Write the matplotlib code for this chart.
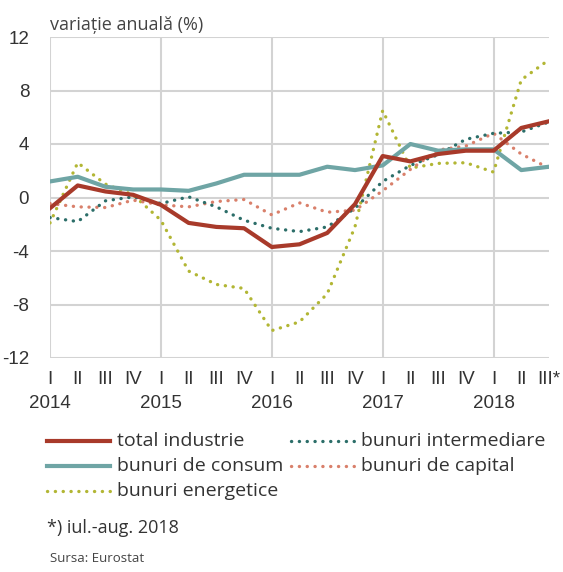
import numpy as np
import matplotlib.pyplot as plt
from matplotlib.transforms import blended_transform_factory

plt.rcParams["axes.unicode_minus"] = False

# quarterly data, 2014 Q1 .. 2018 Q3 (jul-aug)
quarters = ["I", "II", "III", "IV"] * 4 + ["I", "II", "III*"]
years = ["2014", "2015", "2016", "2017", "2018"]

total_industrie = [-0.8, 0.9, 0.45, 0.2, -0.55, -1.9, -2.2, -2.3, -3.7, -3.5,
                   -2.65, -0.5, 3.1, 2.7, 3.25, 3.5, 3.5, 5.2, 5.7]
bunuri_consum = [1.2, 1.55, 0.8, 0.6, 0.6, 0.5, 1.05, 1.7, 1.7, 1.7,
                 2.3, 2.05, 2.4, 4.0, 3.5, 3.6, 3.6, 2.05, 2.3]
bunuri_energetice = [-1.9, 2.6, 1.0, 0.2, -1.7, -5.5, -6.5, -6.8, -9.95, -9.3,
                     -7.2, -2.2, 6.5, 2.2, 2.55, 2.6, 1.9, 8.8, 10.3]
bunuri_intermediare = [-1.5, -1.8, -0.25, 0.05, -0.45, 0.05, -0.7, -1.7, -2.3, -2.55,
                       -2.2, -0.8, 1.2, 2.4, 3.2, 4.35, 4.8, 4.9, 5.65]
bunuri_capital = [-0.45, -0.7, -0.75, -0.2, -0.55, -0.7, -0.3, -0.15, -1.3, -0.4,
                  -1.1, -0.95, 0.5, 2.1, 3.55, 3.85, 4.8, 3.25, 2.2]

c_red = "#A83A2A"
c_teal = "#6FA5A5"
c_olive = "#B2B634"
c_dteal = "#2C6E69"
c_salmon = "#D9806B"
txt = "#333333"
tick_font = "Liberation Sans"

x = np.arange(len(quarters))

fig = plt.figure(figsize=(5.63, 5.72), dpi=100)
ax = fig.add_axes([50 / 563, 1 - 358 / 572, 499 / 563, 321 / 572])

dot = (0, (0.05, 2.3))
ax.plot(x, bunuri_energetice, color=c_olive, lw=2.4, ls=dot, dash_capstyle="round",
        label="bunuri energetice")
ax.plot(x, bunuri_capital, color=c_salmon, lw=2.4, ls=dot, dash_capstyle="round",
        label="bunuri de capital")
ax.plot(x, bunuri_intermediare, color=c_dteal, lw=2.4, ls=dot, dash_capstyle="round",
        label="bunuri intermediare")
ax.plot(x, bunuri_consum, color=c_teal, lw=3.0, label="bunuri de consum")
ax.plot(x, total_industrie, color=c_red, lw=3.0, label="total industrie")

ax.set_xlim(0, 18)
ax.set_ylim(-12, 12)
ax.set_yticks([-12, -8, -4, 0, 4, 8, 12])
ax.set_xticks(x)
ax.set_xticklabels(quarters)
for s in ax.spines.values():
    s.set_visible(False)
ax.tick_params(length=0, colors=txt, labelsize=13.5)
ax.tick_params(axis="y", pad=15)
ax.tick_params(axis="x", pad=9)
for lab in ax.get_xticklabels() + ax.get_yticklabels():
    lab.set_family(tick_font)

for yv in [-12, -8, -4, 0, 4, 8, 12]:
    ax.axhline(yv, color="#d3d3d3", lw=1.5, zorder=0)
for xv in [0, 4, 8, 12, 16]:
    ax.axvline(xv, color="#d3d3d3", lw=1.5, zorder=0)

tr = blended_transform_factory(ax.transData, fig.transFigure)
for i, yr in enumerate(years):
    ax.text(i * 4, 1 - 404 / 572, yr, transform=tr, ha="center", va="center",
            fontsize=13.5, family=tick_font, color=txt)

fig.text(50 / 563, 1 - 25 / 572, "variație anuală (%)", ha="left", va="center",
         fontsize=13, color="#444444", family="Open Sans")

h = {l.get_label(): l for l in ax.get_lines()}
order = ["total industrie", "bunuri intermediare", "bunuri de consum",
         "bunuri de capital", "bunuri energetice"]
leg_pos = {"total industrie": (47, 441), "bunuri de consum": (47, 466),
           "bunuri energetice": (47, 491), "bunuri intermediare": (291, 441),
           "bunuri de capital": (291, 466)}
for name in order:
    ln = h[name]
    px, py = leg_pos[name]
    yy = 1 - py / 572
    style = "-" if name in ("total industrie", "bunuri de consum") else dot
    fig.add_artist(plt.Line2D([px / 563, (px + 63) / 563], [yy, yy],
                              transform=fig.transFigure, color=ln.get_color(),
                              lw=ln.get_linewidth(), ls=style,
                              dash_capstyle="round"))
    fig.text((px + 70) / 563, yy, name, ha="left", va="center", fontsize=14,
             color=txt, family="Open Sans")

fig.text(47 / 563, 1 - 528 / 572, "*) iul.-aug. 2018", ha="left", va="center",
         fontsize=13, color=txt, family="Open Sans")
fig.text(50 / 563, 1 - 558 / 572, "Sursa: Eurostat", ha="left", va="center",
         fontsize=9.5, color="#444444", family="Open Sans")

fig.savefig("out.png", dpi=100)
